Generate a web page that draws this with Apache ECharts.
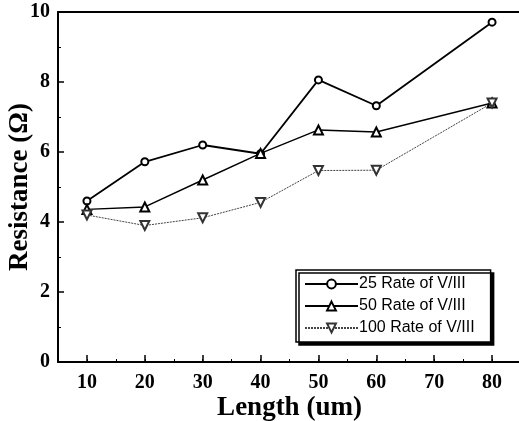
<!DOCTYPE html>
<html>
<head>
<meta charset="utf-8">
<script src="https://cdn.jsdelivr.net/npm/echarts@6/dist/echarts.min.js"></script>
<style>
html,body{margin:0;padding:0;background:#fff;}
#chart{width:519px;height:421px;}
</style>
</head>
<body>
<div id="chart"></div>
<script>
var lengths = [10, 20, 30, 40, 50, 60, 80];
var rate25 = [4.6, 5.72, 6.2, 5.95, 8.06, 7.32, 9.71];
var rate50 = [4.36, 4.43, 5.2, 5.96, 6.63, 6.57, 7.4];
var rate100 = [4.2, 3.9, 4.12, 4.56, 5.47, 5.48, 7.4];
var names = ['25 Rate of V/III', '50 Rate of V/III', '100 Rate of V/III'];
var majorX = [10, 20, 30, 40, 50, 60, 70, 80];
var yTitle = 'Resistance (Ω)';

function pairs(ys) {
	var out = [];
	for (var i = 0; i < lengths.length; i++) {
		out.push([lengths[i], ys[i]]);
	}
	return out;
}

var chart = echarts.init(document.getElementById('chart'));

var serifBold = {
	fontFamily: 'Liberation Serif',
	fontWeight: 'bold',
	color: '#000'
};

var option = {
	animation: false,
	backgroundColor: '#fff',
	grid: {
		left: 58,
		top: 12,
		width: 463,
		height: 350,
		containLabel: false,
		outerBoundsMode: 'none'
	},
	// y title drawn by hand, the axis name kept getting pushed off the left edge
	graphic: [{
		type: 'text',
		x: 20,
		y: 187,
		rotation: Math.PI / 2,
		style: {
			text: yTitle,
			align: 'center',
			verticalAlign: 'middle',
			fontFamily: 'Liberation Serif',
			fontWeight: 'bold',
			fontSize: 27,
			fill: '#000'
		}
	}],
	legend: {
		orient: 'vertical',
		left: 296,
		top: 270,
		padding: [6, 16, 6, 8],
		itemGap: 6,
		itemWidth: 53,
		itemHeight: 11,
		backgroundColor: '#fff',
		borderColor: '#000',
		borderWidth: 1.5,
		shadowColor: '#000',
		shadowBlur: 0,
		shadowOffsetX: 3,
		shadowOffsetY: 3,
		textStyle: {
			fontFamily: 'Liberation Sans',
			fontSize: 16,
			color: '#000',
			padding: [0, 0, 0, -4]
		},
		data: names
	},
	xAxis: [{
		type: 'value',
		min: 5,
		max: 85,
		interval: 5,
		position: 'bottom',
		name: 'Length (um)',
		nameLocation: 'middle',
		nameMoveOverlap: false,
		nameGap: 33,
		nameTextStyle: Object.assign({fontSize: 27}, serifBold),
		axisLine: {lineStyle: {color: '#000', width: 2}},
		axisTick: {inside: true, length: 3, lineStyle: {color: '#000'}},
		axisLabel: Object.assign({
			fontSize: 20,
			margin: 11,
			formatter: function (v) {
				return (v % 10 === 0 && v >= 10 && v <= 80) ? String(v) : '';
			}
		}, serifBold),
		splitLine: {show: false}
	}, {
		type: 'value',
		min: 5,
		max: 85,
		interval: 5,
		position: 'bottom',
		axisLine: {show: false},
		axisTick: {show: true, inside: true, length: 7, customValues: majorX, lineStyle: {color: '#000', width: 1.5}},
		axisLabel: {show: false},
		splitLine: {show: false}
	}, {
		type: 'value',
		min: 5,
		max: 85,
		position: 'top',
		axisLine: {lineStyle: {color: '#000', width: 2}},
		axisTick: {show: false},
		axisLabel: {show: false},
		splitLine: {show: false}
	}],
	yAxis: {
		type: 'value',
		min: 0,
		max: 10,
		interval: 2,
		axisLine: {show: true, lineStyle: {color: '#000', width: 2}},
		axisTick: {inside: true, length: 6, lineStyle: {color: '#000', width: 1.5}},
		minorTick: {show: true, splitNumber: 2, length: 3, lineStyle: {color: '#000'}},
		axisLabel: Object.assign({fontSize: 20, margin: 8}, serifBold),
		splitLine: {show: false}
	},
	series: [{
		name: names[0],
		type: 'line',
		data: pairs(rate25),
		symbol: 'emptyCircle',
		symbolSize: 7,
		lineStyle: {color: '#000', width: 1.8},
		itemStyle: {color: '#000', borderWidth: 1.6}
	}, {
		name: names[1],
		type: 'line',
		data: pairs(rate50),
		symbol: 'emptyTriangle',
		symbolSize: 9,
		lineStyle: {color: '#000', width: 1.4},
		itemStyle: {color: '#000', borderWidth: 1.4}
	}, {
		name: names[2],
		type: 'line',
		data: pairs(rate100),
		symbol: 'emptyTriangle',
		symbolRotate: 180,
		symbolSize: 9,
		lineStyle: {color: '#444', width: 1, type: [2, 1]},
		itemStyle: {color: '#333', borderWidth: 1.2}
	}]
};

chart.setOption(option);
</script>
</body>
</html>
